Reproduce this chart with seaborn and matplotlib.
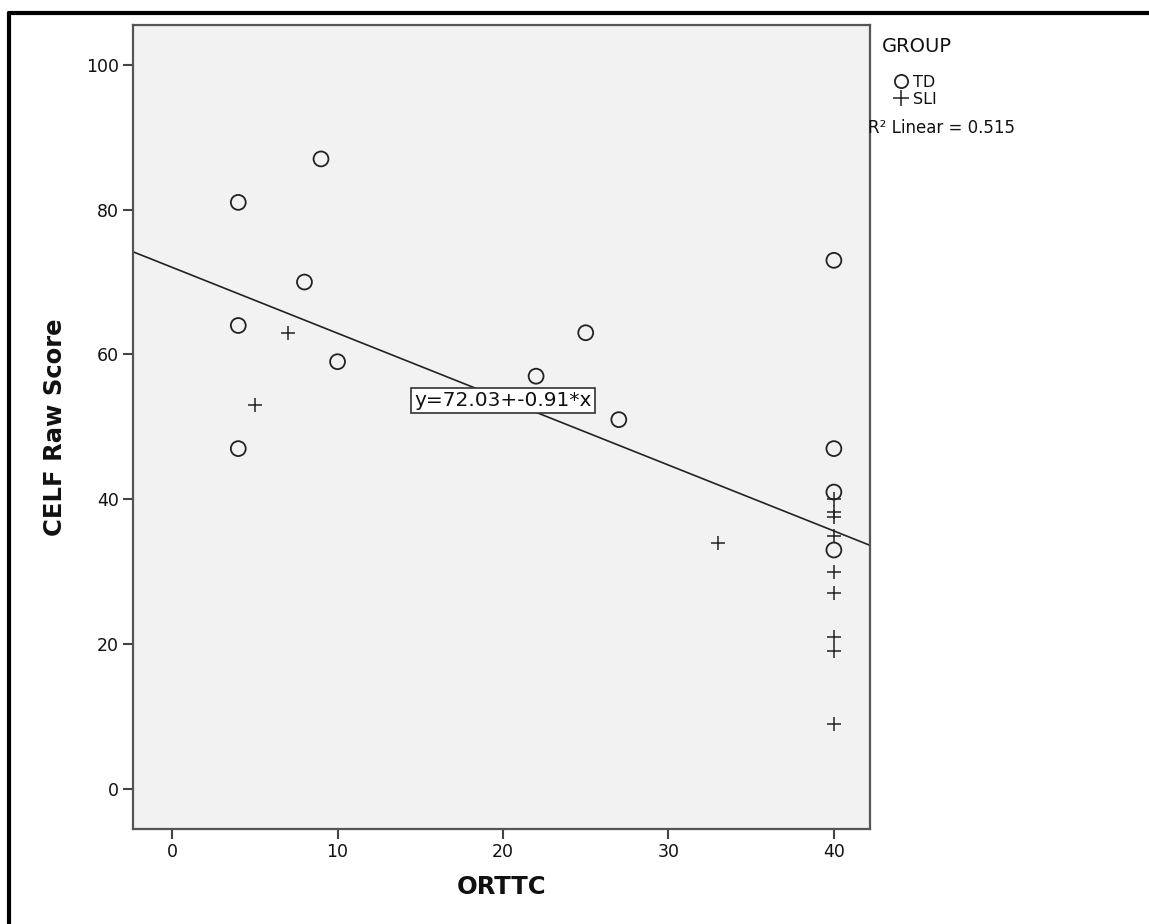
import matplotlib
matplotlib.use('Agg')
import matplotlib.pyplot as plt
import seaborn as sns
import pandas as pd
from matplotlib.lines import Line2D

# Data
td_orttc = [4, 9, 8, 4, 10, 4, 22, 25, 27, 40, 40, 40, 40]
td_celf = [81, 87, 70, 64, 59, 47, 57, 63, 51, 73, 47, 41, 33]
sli_orttc = [7, 5, 33, 40, 40, 40, 40, 40, 40, 40, 40, 40]
sli_celf = [63, 53, 34, 40, 38.3, 37.5, 35, 30, 27, 21, 19, 9]

intercept = 72.03
slope = -0.91
r2_text = 'R² Linear = 0.515'
fit_label = 'y=72.03+-0.91*x'

x_ticks = [0, 10, 20, 30, 40]
y_ticks = [0, 20, 40, 60, 80, 100]

df = pd.DataFrame({
    'ORTTC': td_orttc + sli_orttc,
    'CELF': td_celf + sli_celf,
    'GROUP': ['TD'] * len(td_orttc) + ['SLI'] * len(sli_orttc),
})

sns.set_style('white')
plt.rcParams['font.family'] = ['DejaVu Sans']
plt.rcParams['text.color'] = '#111111'
plt.rcParams['axes.labelcolor'] = '#111111'

fig = plt.figure(figsize=(11.49, 9.24), dpi=100)
ax = fig.add_axes([0.1158, 0.103, 0.6412, 0.870])
ax.set_facecolor('#f2f2f2')

# TD circles
sns.scatterplot(data=df[df['GROUP'] == 'TD'], x='ORTTC', y='CELF', ax=ax,
                marker='o', s=115, facecolors='none', edgecolor='#222222',
                linewidth=1.3, legend=False, zorder=3)
# SLI crosses
sns.scatterplot(data=df[df['GROUP'] == 'SLI'], x='ORTTC', y='CELF', ax=ax,
                marker='+', s=110, color='#222222', linewidth=1.1,
                legend=False, zorder=3)

# fit line
ax.axline((0, intercept), slope=slope, color='#222222', lw=1.2, zorder=2)

ax.text(20, 53.7, fit_label, fontsize=14.5, ha='center', va='center', zorder=4,
        bbox=dict(boxstyle='square,pad=0.15', fc='white', ec='#333333', lw=1.2))

ax.set_xlim(-2.36, 42.17)
ax.set_ylim(-5.5, 105.5)
ax.set_xticks(x_ticks)
ax.set_yticks(y_ticks)
ax.tick_params(axis='both', direction='out', length=7, width=1.5,
               color='#444444', labelcolor='#111111', labelsize=12.5, pad=3,
               bottom=True, left=True)
for sp in ax.spines.values():
    sp.set_color('#555555')
    sp.set_linewidth(1.6)

ax.set_xlabel('ORTTC', fontsize=17.5, fontweight='bold', labelpad=10)
ax.set_ylabel('CELF Raw Score', fontsize=17.5, fontweight='bold', labelpad=14)

# legend outside the axes
handles = [
    Line2D([], [], marker='o', ls='none', mfc='none', mec='#222222', ms=9.5, mew=1.3),
    Line2D([], [], marker='+', ls='none', color='#222222', ms=11, mew=1.1),
]
fig.text(882 / 1149, 1 - 47 / 924, 'GROUP', fontsize=14, ha='left', va='center')
fig.legend(handles, ['TD', 'SLI'], loc='upper left',
           bbox_to_anchor=(895 / 1149, 1 - 75 / 924), frameon=False,
           fontsize=11.5, handlelength=0.8, handletextpad=0.3,
           labelspacing=0.1, borderpad=0, borderaxespad=0)
fig.text(868 / 1149, 1 - 128 / 924, r2_text, fontsize=12, ha='left', va='center')

# outer frame (left and top edges)
fig.add_artist(Line2D([9 / 1149, 9 / 1149], [0, 1 - 12.5 / 924],
                      transform=fig.transFigure, color='black', lw=3))
fig.add_artist(Line2D([9 / 1149, 1], [1 - 12.5 / 924, 1 - 12.5 / 924],
                      transform=fig.transFigure, color='black', lw=3))

fig.savefig('out.png', dpi=100)
